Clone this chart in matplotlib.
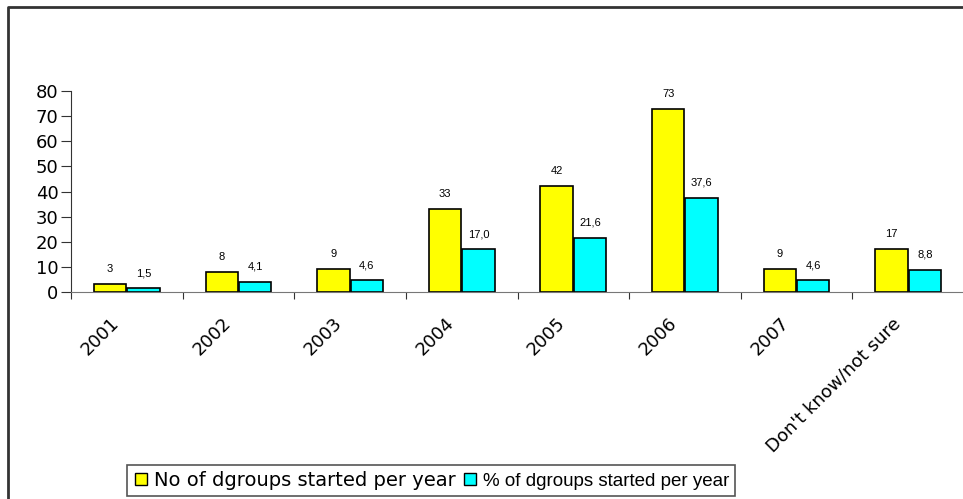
import matplotlib
matplotlib.use("Agg")
import matplotlib.pyplot as plt
from matplotlib.lines import Line2D
from matplotlib.transforms import ScaledTranslation
import numpy as np

# datos del grafico
categorias = ["2001", "2002", "2003", "2004", "2005", "2006", "2007", "Don't know/not sure"]
num_grupos = [3, 8, 9, 33, 42, 73, 9, 17]
pct_grupos = [1.5, 4.1, 4.6, 17.0, 21.6, 37.6, 4.6, 8.8]
etiqueta_num = "No of dgroups started per year"
etiqueta_pct = "% of dgroups started per year"

W, H = 963, 499
fig = plt.figure(figsize=(W / 100, H / 100), dpi=100)

# marco del grafico (solo se ven el borde superior e izquierdo)
fig.add_artist(Line2D([8 / W, 8 / W, 1.0], [0.0, 1 - 7 / H, 1 - 7 / H],
                      transform=fig.transFigure, color="#333333", lw=2))

ax = fig.add_axes([71 / W, 1 - 292 / H, 893 / W, (292 - 91) / H])

x = np.arange(len(categorias))
ancho = 0.29
b1 = ax.bar(x - ancho / 2 - 0.005, num_grupos, ancho, color="#ffff00", edgecolor="black", lw=1.2)
b2 = ax.bar(x + ancho / 2 + 0.005, pct_grupos, ancho, color="#00ffff", edgecolor="black", lw=1.2)

# etiquetas sobre las barras
for barras, vals, dec in [(b1, num_grupos, False), (b2, pct_grupos, True)]:
    for b, v in zip(barras, vals):
        txt = f"{v:.1f}".replace(".", ",") if dec else str(v)
        ax.annotate(txt, (b.get_x() + b.get_width() / 2, v), xytext=(0, 15),
                    textcoords="offset pixels", ha="center", va="center",
                    fontsize=8, family="Liberation Sans")

ax.set_xlim(-0.5, len(categorias) - 0.5)
ax.set_ylim(0, 80)
ax.set_yticks(range(0, 81, 10))
ax.tick_params(axis="y", labelsize=13, length=7, pad=2, direction="out", color="#333333")

ax.set_xticks(np.arange(len(categorias) + 1) - 0.5)
ax.set_xticklabels([])
ax.tick_params(axis="x", which="major", length=5, direction="out", color="#333333")
ax.set_xticks(x, minor=True)
ax.set_xticklabels(categorias, minor=True, rotation=45, ha="right",
                   rotation_mode="anchor", fontsize=13)
ax.tick_params(axis="x", which="minor", length=0, pad=8)
desplazamiento = ScaledTranslation(-17 / 100, -11 / 100, fig.dpi_scale_trans)
for t in ax.get_xticklabels(minor=True):
    t.set_transform(t.get_transform() + desplazamiento)

for s in ["top", "right"]:
    ax.spines[s].set_visible(False)
ax.spines["left"].set_color("#333333")
ax.spines["bottom"].set_color("#777777")

handles = [Line2D([], [], marker="s", ls="none", markersize=9, markerfacecolor="#ffff00",
                  markeredgecolor="black"),
           Line2D([], [], marker="s", ls="none", markersize=9, markerfacecolor="#00ffff",
                  markeredgecolor="black")]
leg = fig.legend(handles, [etiqueta_num, etiqueta_pct], loc="upper left",
                 bbox_to_anchor=(127 / W, 1 - 465 / H), ncol=2, fancybox=False,
                 edgecolor="#555555", fontsize=14, handlelength=0.8, borderaxespad=0,
                 handletextpad=0.3, columnspacing=0.3, borderpad=0.3, framealpha=1)
leg.get_frame().set_linewidth(1.2)
leg.get_texts()[0].set_family("DejaVu Sans")
leg.get_texts()[1].set_family("Liberation Sans")
leg.get_texts()[1].set_fontsize(13.5)

fig.savefig("out.png", dpi=100)
